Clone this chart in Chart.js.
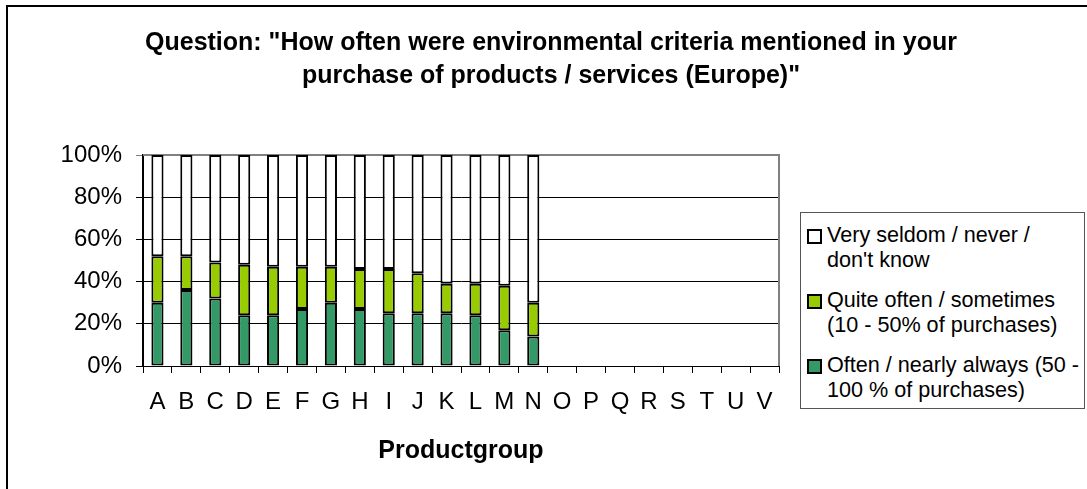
<!DOCTYPE html>
<html>
<head>
<meta charset="utf-8">
<script src="https://cdn.jsdelivr.net/npm/chart.js@4.4.0/dist/chart.umd.min.js"></script>
<style>
  body { margin: 0; background: #fff; }
  #wrap { position: relative; width: 1087px; height: 489px; overflow: hidden; }
  #legendBox {
    position: absolute; left: 800px; top: 212px; width: 285px; height: 197px;
    border: 1px solid #555; box-sizing: border-box; background: #fff;
    font-family: "Liberation Sans", Arial, sans-serif; font-size: 21.6px; color: #000;
  }
  .item { position: absolute; left: 6px; }
  .item .box { position: absolute; left: 0; top: 6px; width: 11px; height: 11px; border: 2px solid #000; }
  .item .txt { position: absolute; left: 20px; top: -1px; white-space: nowrap; line-height: 25px; }
</style>
</head>
<body>
<div id="wrap">
  <canvas id="surveyChart" width="1087" height="489"></canvas>
  <div id="legendBox"></div>
</div>
<script>
// data
const productGroups = ['A','B','C','D','E','F','G','H','I','J','K','L','M','N','O','P','Q','R','S','T','U','V'];
const oftenValues = [30, 36, 32, 24, 24, 27, 30, 27, 25, 25, 25, 24, 17, 14];
const sometimesValues = [22, 16, 17, 24, 23, 20, 17, 19, 21, 19, 14, 15, 21, 16];
// rest up to 100%
const seldomValues = [48, 48, 51, 52, 53, 53, 53, 54, 54, 56, 61, 61, 62, 70];
const yTickLabels = ['0%', '20%', '40%', '60%', '80%', '100%'];

const titleLines = ['Question: "How often were environmental criteria mentioned in your', 'purchase of products / services (Europe)"'];
const seriesNames = [
  ['Often / nearly always (50 -', '100 % of purchases)'],
  ['Quite often / sometimes', '(10 - 50% of purchases)'],
  ['Very seldom / never /', "don't know"]
];
const seriesColors = ['#339966', '#99CC00', '#FFFFFF'];

const fontFam = '"Liberation Sans", Arial, sans-serif';

// outer border, plot frame and the two-line title
const framePlugin = {
  id: 'frame',
  beforeDraw(chart) {
    const c = chart.ctx;
    c.save();
    c.strokeStyle = '#000';
    c.lineWidth = 2;
    c.strokeRect(7, 6, 1100, 500);
    c.fillStyle = '#000';
    c.font = 'bold 25px ' + fontFam;
    c.textAlign = 'center';
    c.textBaseline = 'alphabetic';
    c.fillText(titleLines[0], 551, 50);
    c.fillText(titleLines[1], 551, 83);
    c.restore();
  },
  beforeDatasetsDraw(chart) {
    const a = chart.chartArea;
    const c = chart.ctx;
    c.save();
    c.strokeStyle = '#808080';
    c.lineWidth = 2;
    c.beginPath();
    c.moveTo(a.left, a.top);
    c.lineTo(a.right, a.top);
    c.lineTo(a.right, a.bottom);
    c.stroke();
    c.restore();
  }
};

const surveyData = {
  labels: productGroups,
  datasets: [0, 1, 2].map(i => ({
    label: seriesNames[i].join(' '),
    data: [oftenValues, sometimesValues, seldomValues][i],
    backgroundColor: seriesColors[i],
    borderColor: '#000',
    borderWidth: 2,
    borderSkipped: false,
    barPercentage: 0.42,
    categoryPercentage: 1
  }))
};

const surveyOptions = {
  responsive: false,
  animation: false,
  layout: { padding: { left: 0, right: 308, top: 155, bottom: 0 } },
  plugins: {
    legend: { display: false },
    tooltip: { enabled: false },
    title: { display: false }
  },
  scales: {
    x: {
      stacked: true,
      afterFit(scale) { scale.height = 123; },
      grid: { drawOnChartArea: false, color: '#000', tickLength: 7, offset: true },
      border: { color: '#000', width: 1 },
      ticks: { color: '#000', font: { family: fontFam, size: 24 }, padding: 15, maxRotation: 0, autoSkip: false },
      title: {
        display: true, text: 'Productgroup', color: '#000',
        font: { family: fontFam, size: 25, weight: 'bold' },
        padding: { top: 0, bottom: 23 }
      }
    },
    y: {
      stacked: true,
      min: 0, max: 100,
      afterFit(scale) { scale.width = 143; },
      grid: { color: ctx => (ctx.tick && ctx.tick.value === 100 ? '#808080' : '#000'), lineWidth: 1, tickLength: 7 },
      border: { color: '#000', width: 2 },
      ticks: {
        stepSize: 20, color: '#000', padding: 14,
        font: { family: fontFam, size: 24 },
        callback: (v, i) => yTickLabels[i]
      }
    }
  }
};

const surveyChart = new Chart(document.getElementById('surveyChart'), {
  type: 'bar',
  data: surveyData,
  options: surveyOptions,
  plugins: [framePlugin]
});

// legend (reverse order, like Excel)
const legendBox = document.getElementById('legendBox');
const legendTops = [10, 75, 140];
[2, 1, 0].forEach((s, k) => {
  const it = document.createElement('div');
  it.className = 'item';
  it.style.top = legendTops[k] + 'px';
  it.innerHTML = '<div class="box" style="background:' + seriesColors[s] + '"></div>' +
    '<div class="txt">' + seriesNames[s].join('<br>') + '</div>';
  legendBox.appendChild(it);
});
</script>
</body>
</html>
